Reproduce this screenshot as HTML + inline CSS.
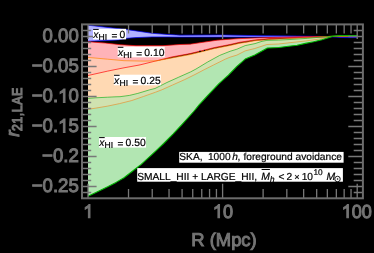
<!DOCTYPE html>
<html><head><meta charset="utf-8"><title>plot</title>
<style>html,body{margin:0;padding:0;background:#000;width:374px;height:253px;overflow:hidden}</style>
</head><body>
<svg width="374" height="253" viewBox="0 0 374 253" style="position:absolute;left:0;top:0;display:block;will-change:transform" font-family="Liberation Sans, sans-serif" text-rendering="geometricPrecision">
<polygon points="88.0,25.2 126.4,29.6 136.0,30.9 152.0,33.3 168.0,34.5 180.0,35.2 223.0,35.0 260.0,35.7 300.0,36.1 332.0,36.6 345.0,37.2 357.5,37.2 357.5,37.6 345.0,37.6 332.0,36.8 300.0,36.9 260.0,37.0 223.0,37.0 180.0,37.1 168.0,36.9 152.0,36.9 136.0,37.6 126.4,38.3 118.2,39.9 105.4,40.6 88.0,41.2" fill="#b2b2ff" fill-opacity="1"/>
<polygon points="88.0,41.7 105.4,43.1 120.4,44.7 136.0,45.7 163.0,45.7 180.0,44.5 190.0,44.2 203.0,42.3 217.3,40.2 230.0,39.2 240.0,38.6 255.0,38.0 270.0,37.5 300.0,36.8 332.0,36.5 357.5,36.5 357.5,36.6 332.0,36.6 295.0,37.5 270.0,38.6 255.0,39.9 245.4,41.4 240.0,42.2 230.0,44.5 213.7,47.7 201.9,50.7 190.0,53.6 172.0,56.9 156.0,60.9 140.0,64.9 124.0,67.8 107.7,71.1 88.0,75.5" fill="#ffb3b8" fill-opacity="1"/>
<polygon points="88.0,57.4 107.7,59.2 124.0,60.7 144.0,61.1 157.0,60.8 172.0,57.9 190.0,54.6 201.9,51.7 213.7,48.7 230.0,45.5 240.0,43.2 245.4,42.4 255.0,40.7 270.0,39.4 295.0,38.3 332.0,36.3 357.5,36.2 357.5,36.2 331.0,36.5 319.7,39.0 305.4,41.0 290.0,42.7 278.7,44.0 266.9,44.5 254.8,48.5 245.2,50.9 236.9,55.1 230.0,57.2 225.6,59.0 213.7,64.9 204.2,69.7 195.0,74.5 184.7,79.6 172.8,84.9 162.1,89.7 155.6,92.2 143.7,96.4 131.9,100.5 119.6,103.6 107.7,106.1 95.9,108.1 88.0,109.3" fill="#ffd9b3" fill-opacity="1"/>
<polygon points="88.0,98.4 95.9,97.8 107.7,97.2 116.0,96.8 120.0,96.7 129.5,95.4 137.8,93.4 149.7,89.8 155.0,88.5 166.9,82.5 178.7,77.2 190.6,71.9 195.9,69.1 207.8,61.9 219.7,55.4 230.0,51.3 236.9,49.2 245.2,45.6 255.0,43.6 262.0,41.3 266.9,40.4 278.7,40.1 290.0,39.5 307.8,38.3 331.0,36.2 340.0,35.6 357.5,35.5 357.5,35.6 340.0,35.7 333.0,36.3 330.0,37.3 322.0,39.7 313.7,41.7 305.4,43.4 297.1,45.2 288.5,46.2 278.9,47.5 267.4,48.0 254.8,54.9 245.2,59.1 236.9,66.4 228.4,75.2 218.7,83.9 206.9,96.4 199.3,104.7 193.7,111.5 181.9,124.6 173.0,134.1 163.7,143.5 157.8,149.1 151.9,154.6 141.2,164.4 136.9,167.8 132.1,171.5 124.0,177.7 116.0,182.4 107.7,186.8 95.9,192.6 88.0,196.2" fill="#b2e6b2" fill-opacity="1"/>
<clipPath id="cr"><polygon points="88.0,41.7 105.4,43.1 120.4,44.7 136.0,45.7 163.0,45.7 180.0,44.5 190.0,44.2 203.0,42.3 217.3,40.2 230.0,39.2 240.0,38.6 255.0,38.0 270.0,37.5 300.0,36.8 332.0,36.5 357.5,36.5 357.5,36.6 332.0,36.6 295.0,37.5 270.0,38.6 255.0,39.9 245.4,41.4 240.0,42.2 230.0,44.5 213.7,47.7 201.9,50.7 190.0,53.6 172.0,56.9 156.0,60.9 140.0,64.9 124.0,67.8 107.7,71.1 88.0,75.5"/></clipPath>
<polygon clip-path="url(#cr)" points="88.0,57.4 107.7,59.2 124.0,60.7 144.0,61.1 157.0,60.8 172.0,57.9 190.0,54.6 201.9,51.7 213.7,48.7 230.0,45.5 240.0,43.2 245.4,42.4 255.0,40.7 270.0,39.4 295.0,38.3 332.0,36.3 357.5,36.2 357.5,36.2 331.0,36.5 319.7,39.0 305.4,41.0 290.0,42.7 278.7,44.0 266.9,44.5 254.8,48.5 245.2,50.9 236.9,55.1 230.0,57.2 225.6,59.0 213.7,64.9 204.2,69.7 195.0,74.5 184.7,79.6 172.8,84.9 162.1,89.7 155.6,92.2 143.7,96.4 131.9,100.5 119.6,103.6 107.7,106.1 95.9,108.1 88.0,109.3" fill="#ffc8b4"/>
<clipPath id="co"><polygon points="88.0,57.4 107.7,59.2 124.0,60.7 144.0,61.1 157.0,60.8 172.0,57.9 190.0,54.6 201.9,51.7 213.7,48.7 230.0,45.5 240.0,43.2 245.4,42.4 255.0,40.7 270.0,39.4 295.0,38.3 332.0,36.3 357.5,36.2 357.5,36.2 331.0,36.5 319.7,39.0 305.4,41.0 290.0,42.7 278.7,44.0 266.9,44.5 254.8,48.5 245.2,50.9 236.9,55.1 230.0,57.2 225.6,59.0 213.7,64.9 204.2,69.7 195.0,74.5 184.7,79.6 172.8,84.9 162.1,89.7 155.6,92.2 143.7,96.4 131.9,100.5 119.6,103.6 107.7,106.1 95.9,108.1 88.0,109.3"/></clipPath>
<polygon clip-path="url(#co)" points="88.0,98.4 95.9,97.8 107.7,97.2 116.0,96.8 120.0,96.7 129.5,95.4 137.8,93.4 149.7,89.8 155.0,88.5 166.9,82.5 178.7,77.2 190.6,71.9 195.9,69.1 207.8,61.9 219.7,55.4 230.0,51.3 236.9,49.2 245.2,45.6 255.0,43.6 262.0,41.3 266.9,40.4 278.7,40.1 290.0,39.5 307.8,38.3 331.0,36.2 340.0,35.6 357.5,35.5 357.5,35.6 340.0,35.7 333.0,36.3 330.0,37.3 322.0,39.7 313.7,41.7 305.4,43.4 297.1,45.2 288.5,46.2 278.9,47.5 267.4,48.0 254.8,54.9 245.2,59.1 236.9,66.4 228.4,75.2 218.7,83.9 206.9,96.4 199.3,104.7 193.7,111.5 181.9,124.6 173.0,134.1 163.7,143.5 157.8,149.1 151.9,154.6 141.2,164.4 136.9,167.8 132.1,171.5 124.0,177.7 116.0,182.4 107.7,186.8 95.9,192.6 88.0,196.2" fill="#d0e2b0"/>
<polyline points="88.0,25.2 126.4,29.6 136.0,30.9 152.0,33.3 168.0,34.5 180.0,35.2 223.0,35.0 260.0,35.7 300.0,36.1 332.0,36.6 345.0,37.2 357.5,37.2" fill="none" stroke="#0000ff" stroke-width="0.68" stroke-linejoin="round"/>
<polyline points="88.0,41.2 105.4,40.6 118.2,39.9 126.4,38.3 136.0,37.6 152.0,36.9 168.0,36.9 180.0,37.1 223.0,37.0 260.0,37.0 300.0,36.9 332.0,36.8 345.0,37.6 357.5,37.6" fill="none" stroke="#0000ff" stroke-width="0.68" stroke-linejoin="round"/>
<polyline points="88.0,41.7 105.4,43.1 120.4,44.7 136.0,45.7 163.0,45.7 180.0,44.5 190.0,44.2 203.0,42.3 217.3,40.2 230.0,39.2 240.0,38.6 255.0,38.0 270.0,37.5 300.0,36.8 332.0,36.5 357.5,36.5" fill="none" stroke="#ff0000" stroke-width="0.68" stroke-linejoin="round"/>
<polyline points="88.0,75.5 107.7,71.1 124.0,67.8 140.0,64.9 156.0,60.9 172.0,56.9 190.0,53.6 201.9,50.7 213.7,47.7 230.0,44.5 240.0,42.2 245.4,41.4 255.0,39.9 270.0,38.6 295.0,37.5 332.0,36.6 357.5,36.6" fill="none" stroke="#ff0000" stroke-width="0.68" stroke-linejoin="round"/>
<polyline points="88.0,57.4 107.7,59.2 124.0,60.7 144.0,61.1 157.0,60.8 172.0,57.9 190.0,54.6 201.9,51.7 213.7,48.7 230.0,45.5 240.0,43.2 245.4,42.4 255.0,40.7 270.0,39.4 295.0,38.3 332.0,36.3 357.5,36.2" fill="none" stroke="#ff8000" stroke-width="0.68" stroke-linejoin="round"/>
<polyline points="88.0,109.3 95.9,108.1 107.7,106.1 119.6,103.6 131.9,100.5 143.7,96.4 155.6,92.2 162.1,89.7 172.8,84.9 184.7,79.6 195.0,74.5 204.2,69.7 213.7,64.9 225.6,59.0 230.0,57.2 236.9,55.1 245.2,50.9 254.8,48.5 266.9,44.5 278.7,44.0 290.0,42.7 305.4,41.0 319.7,39.0 331.0,36.5 357.5,36.2" fill="none" stroke="#e89030" stroke-width="0.68" stroke-linejoin="round"/>
<polyline points="88.0,98.4 95.9,97.8 107.7,97.2 116.0,96.8 120.0,96.7 129.5,95.4 137.8,93.4 149.7,89.8 155.0,88.5 166.9,82.5 178.7,77.2 190.6,71.9 195.9,69.1 207.8,61.9 219.7,55.4 230.0,51.3 236.9,49.2 245.2,45.6 255.0,43.6 262.0,41.3 266.9,40.4 278.7,40.1 290.0,39.5 307.8,38.3 331.0,36.2 340.0,35.6 357.5,35.5" fill="none" stroke="#22b022" stroke-width="0.68" stroke-linejoin="round"/>
<polyline points="88.0,196.2 95.9,192.6 107.7,186.8 116.0,182.4 124.0,177.7 132.1,171.5 136.9,167.8 141.2,164.4 151.9,154.6 157.8,149.1 163.7,143.5 173.0,134.1 181.9,124.6 193.7,111.5 199.3,104.7 206.9,96.4 218.7,83.9 228.4,75.2 236.9,66.4 245.2,59.1 254.8,54.9 267.4,48.0 278.9,47.5 288.5,46.2 297.1,45.2 305.4,43.4 313.7,41.7 322.0,39.7 330.0,37.3 333.0,36.3 340.0,35.7 357.5,35.6" fill="none" stroke="#00b400" stroke-width="1.1" stroke-linejoin="round"/>
<rect x="199.1" y="50.8" width="1.8" height="1" fill="#000"/><rect x="203.9" y="49.9" width="1.1" height="1" fill="#000"/>
<path d="M88.00,198.3v-14.6M88.00,24.4v14.6M128.52,198.3v-9.2M128.52,24.4v9.2M152.22,198.3v-9.2M152.22,24.4v9.2M169.04,198.3v-9.2M169.04,24.4v9.2M182.08,198.3v-9.2M182.08,24.4v9.2M192.74,198.3v-9.2M192.74,24.4v9.2M201.75,198.3v-9.2M201.75,24.4v9.2M209.56,198.3v-9.2M209.56,24.4v9.2M216.44,198.3v-9.2M216.44,24.4v9.2M222.60,198.3v-14.6M222.60,24.4v14.6M263.12,198.3v-9.2M263.12,24.4v9.2M286.82,198.3v-9.2M286.82,24.4v9.2M303.64,198.3v-9.2M303.64,24.4v9.2M316.68,198.3v-9.2M316.68,24.4v9.2M327.34,198.3v-9.2M327.34,24.4v9.2M336.35,198.3v-9.2M336.35,24.4v9.2M344.16,198.3v-9.2M344.16,24.4v9.2M351.04,198.3v-9.2M351.04,24.4v9.2M357.20,198.3v-14.6M357.20,24.4v14.6M357.20,198.3v-14.6M357.20,24.4v14.6M82.0,30.50h9.2M362.9,30.50h-9.2M82.0,36.50h14.6M362.9,36.50h-14.6M82.0,42.50h9.2M362.9,42.50h-9.2M82.0,48.50h9.2M362.9,48.50h-9.2M82.0,54.50h9.2M362.9,54.50h-9.2M82.0,60.50h9.2M362.9,60.50h-9.2M82.0,66.50h14.6M362.9,66.50h-14.6M82.0,72.50h9.2M362.9,72.50h-9.2M82.0,78.50h9.2M362.9,78.50h-9.2M82.0,84.50h9.2M362.9,84.50h-9.2M82.0,90.50h9.2M362.9,90.50h-9.2M82.0,96.50h14.6M362.9,96.50h-14.6M82.0,102.50h9.2M362.9,102.50h-9.2M82.0,108.50h9.2M362.9,108.50h-9.2M82.0,114.50h9.2M362.9,114.50h-9.2M82.0,120.50h9.2M362.9,120.50h-9.2M82.0,126.50h14.6M362.9,126.50h-14.6M82.0,132.50h9.2M362.9,132.50h-9.2M82.0,138.50h9.2M362.9,138.50h-9.2M82.0,144.50h9.2M362.9,144.50h-9.2M82.0,150.50h9.2M362.9,150.50h-9.2M82.0,156.50h14.6M362.9,156.50h-14.6M82.0,162.50h9.2M362.9,162.50h-9.2M82.0,168.50h9.2M362.9,168.50h-9.2M82.0,174.50h9.2M362.9,174.50h-9.2M82.0,180.50h9.2M362.9,180.50h-9.2M82.0,186.50h14.6M362.9,186.50h-14.6M82.0,192.50h9.2M362.9,192.50h-9.2" stroke="#787878" stroke-width="1.3" fill="none"/>
<rect x="82.0" y="24.4" width="280.9" height="173.9" fill="none" stroke="#6c6c6c" stroke-width="2"/>
<g transform="translate(42.60,42.40) scale(1,1.04)" font-size="18.6" fill="#747474" stroke="#747474" stroke-width="1.0"><text x="0.00" y="0">0</text><text x="10.34" y="0">.</text><text x="15.51" y="0">0</text><text x="25.86" y="0">0</text></g>
<g transform="translate(31.74,72.40) scale(1,1.04)" font-size="18.6" fill="#747474" stroke="#747474" stroke-width="1.0"><text x="0.00" y="0">−</text><text x="10.86" y="0">0</text><text x="21.21" y="0">.</text><text x="26.37" y="0">0</text><text x="36.72" y="0">5</text></g>
<g transform="translate(31.74,102.40) scale(1,1.04)" font-size="18.6" fill="#747474" stroke="#747474" stroke-width="1.0"><text x="0.00" y="0">−</text><text x="10.86" y="0">0</text><text x="21.21" y="0">.</text><path transform="translate(26.37,0) scale(0.00908,-0.00908)" d="M759 0H579V1147C510 1085 400 1010 219 930V1104C420 1200 570 1330 640 1430H759Z" stroke-width="110.1"/><text x="36.72" y="0">0</text></g>
<g transform="translate(31.74,132.40) scale(1,1.04)" font-size="18.6" fill="#747474" stroke="#747474" stroke-width="1.0"><text x="0.00" y="0">−</text><text x="10.86" y="0">0</text><text x="21.21" y="0">.</text><path transform="translate(26.37,0) scale(0.00908,-0.00908)" d="M759 0H579V1147C510 1085 400 1010 219 930V1104C420 1200 570 1330 640 1430H759Z" stroke-width="110.1"/><text x="36.72" y="0">5</text></g>
<g transform="translate(42.08,161.90) scale(1,1.04)" font-size="18.6" fill="#747474" stroke="#747474" stroke-width="1.0"><text x="0.00" y="0">−</text><text x="10.86" y="0">0</text><text x="21.21" y="0">.</text><text x="26.37" y="0">2</text></g>
<g transform="translate(31.74,192.40) scale(1,1.04)" font-size="18.6" fill="#747474" stroke="#747474" stroke-width="1.0"><text x="0.00" y="0">−</text><text x="10.86" y="0">0</text><text x="21.21" y="0">.</text><text x="26.37" y="0">2</text><text x="36.72" y="0">5</text></g>
<g transform="translate(83.27,217.70) scale(1,1.04)" font-size="18.1" fill="#747474" stroke="#747474" stroke-width="1.0"><path transform="translate(0.00,0) scale(0.00884,-0.00884)" d="M759 0H579V1147C510 1085 400 1010 219 930V1104C420 1200 570 1330 640 1430H759Z" stroke-width="113.1"/></g>
<g transform="translate(212.83,217.70) scale(1,1.04)" font-size="18.1" fill="#747474" stroke="#747474" stroke-width="1.0"><path transform="translate(0.00,0) scale(0.00884,-0.00884)" d="M759 0H579V1147C510 1085 400 1010 219 930V1104C420 1200 570 1330 640 1430H759Z" stroke-width="113.1"/><text x="10.07" y="0">0</text></g>
<g transform="translate(341.70,217.70) scale(1,1.04)" font-size="18.1" fill="#747474" stroke="#747474" stroke-width="1.0"><path transform="translate(0.00,0) scale(0.00884,-0.00884)" d="M759 0H579V1147C510 1085 400 1010 219 930V1104C420 1200 570 1330 640 1430H759Z" stroke-width="113.1"/><text x="10.07" y="0">0</text><text x="20.13" y="0">0</text></g>
<text x="224" y="246.0" font-size="18.4" fill="#747474" stroke="#747474" stroke-width="1.0" text-anchor="middle">R (Mpc)</text>
<g transform="translate(19.0,136.7) rotate(-90)" fill="#747474" stroke="#747474" stroke-width="1.0"><text x="0" y="0" font-size="18.6" font-style="italic">r</text><text transform="translate(5.6,3.4) scale(1,1.14)" x="0" y="0" font-size="12.4" letter-spacing="0.55">21,LAE</text></g>
<rect x="93.0" y="28.8" width="33.1" height="10.6" fill="#fff"/>
<text x="93.2" y="37.8" font-size="10.3" font-style="italic" fill="#000" stroke="#000" stroke-width="0.2">x</text>
<rect x="93.1" y="28.900000000000002" width="5.6" height="1" fill="#000"/>
<text x="98.6" y="39.599999999999994" font-size="8.6" fill="#000" stroke="#000" stroke-width="0.2">HI</text>
<text x="111.6" y="38.699999999999996" font-size="10" fill="#000" stroke="#000" stroke-width="0.2">=</text>
<text x="119.6" y="37.8" font-size="10.35" fill="#000" stroke="#000" stroke-width="0.2">0</text>
<rect x="117.7" y="46.7" width="47.0" height="10.6" fill="#fff"/>
<text x="117.9" y="55.7" font-size="10.3" font-style="italic" fill="#000" stroke="#000" stroke-width="0.2">x</text>
<rect x="117.8" y="46.800000000000004" width="5.6" height="1" fill="#000"/>
<text x="123.3" y="57.5" font-size="8.6" fill="#000" stroke="#000" stroke-width="0.2">HI</text>
<text x="136.3" y="56.6" font-size="10" fill="#000" stroke="#000" stroke-width="0.2">=</text>
<text x="144.3" y="55.7" font-size="10.35" fill="#000" stroke="#000" stroke-width="0.2">0.10</text>
<rect x="113.9" y="74.7" width="47.0" height="10.6" fill="#fff"/>
<text x="114.10000000000001" y="83.7" font-size="10.3" font-style="italic" fill="#000" stroke="#000" stroke-width="0.2">x</text>
<rect x="114.0" y="74.8" width="5.6" height="1" fill="#000"/>
<text x="119.5" y="85.5" font-size="8.6" fill="#000" stroke="#000" stroke-width="0.2">HI</text>
<text x="132.5" y="84.60000000000001" font-size="10" fill="#000" stroke="#000" stroke-width="0.2">=</text>
<text x="140.5" y="83.7" font-size="10.35" fill="#000" stroke="#000" stroke-width="0.2">0.25</text>
<rect x="99.0" y="137.0" width="47.0" height="10.6" fill="#fff"/>
<text x="99.2" y="146.0" font-size="10.3" font-style="italic" fill="#000" stroke="#000" stroke-width="0.2">x</text>
<rect x="99.1" y="137.1" width="5.6" height="1" fill="#000"/>
<text x="104.6" y="147.8" font-size="8.6" fill="#000" stroke="#000" stroke-width="0.2">HI</text>
<text x="117.6" y="146.9" font-size="10" fill="#000" stroke="#000" stroke-width="0.2">=</text>
<text x="125.6" y="146.0" font-size="10.35" fill="#000" stroke="#000" stroke-width="0.2">0.50</text>
<rect x="179.2" y="151.9" width="164.4" height="10.8" fill="#fff"/>
<g font-size="10.2" fill="#000" stroke="#000" stroke-width="0.2"><text x="179.3" y="160.4">SKA,</text><text x="207.9" y="160.4">1000</text><text x="232.3" y="160.4" font-style="italic">h</text><text x="237.5" y="160.4">,</text><text x="243.4" y="160.4">foreground avoidance</text></g>
<rect x="137.2" y="168.1" width="205.7" height="13.6" fill="#fff"/>
<g font-size="10.2" fill="#000" stroke="#000" stroke-width="0.2">
<text x="137.3" y="180.0">SMALL_HII + LARGE_HII,</text>
<text x="261.3" y="180.0" font-style="italic" font-size="10.4">M</text>
<rect x="261.6" y="169.0" width="8.3" height="1" stroke="none"/>
<text x="270.0" y="181.5" font-style="italic" font-size="8.2">h</text>
<text x="278.6" y="180.0">&lt;</text>
<text x="286.5" y="180.0">2</text>
<text x="294.3" y="179.8" font-size="9.2">×</text>
<text x="301.7" y="180.0">10</text>
<text x="313.4" y="174.6" font-size="8.3">10</text>
<text x="326.4" y="180.0" font-style="italic" font-size="10.4">M</text>
<circle cx="337.5" cy="179.0" r="2.75" fill="none" stroke="#000" stroke-width="0.9"/><circle cx="337.6" cy="179.0" r="0.8" stroke="none"/>
</g>
</svg>
</body></html>
